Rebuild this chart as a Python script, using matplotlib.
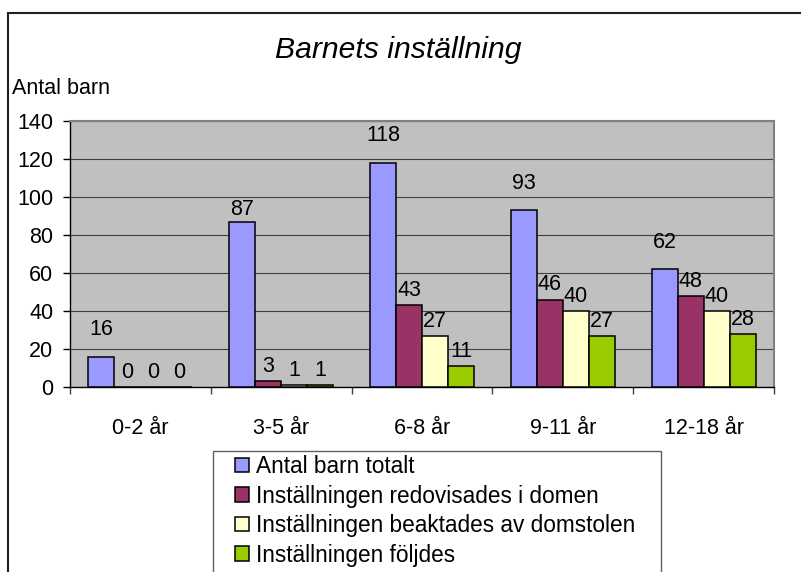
import numpy as np
import matplotlib
matplotlib.use('Agg')
import matplotlib.pyplot as plt
from matplotlib.patches import Rectangle, Patch

plt.rcParams['font.family'] = ['Liberation Sans', 'DejaVu Sans']

categories = ['0-2 år', '3-5 år', '6-8 år', '9-11 år', '12-18 år']
totalt = [16, 87, 118, 93, 62]
redovisades = [0, 3, 43, 46, 48]
beaktades = [0, 1, 27, 40, 40]
foljdes = [0, 1, 11, 27, 28]
series_names = ['Antal barn totalt',
                'Inställningen redovisades i domen',
                'Inställningen beaktades av domstolen',
                'Inställningen följdes']
colors = ['#9999FF', '#993366', '#FFFFCC', '#99CC00']

FS = 15.5
W, H = 801, 572
fig = plt.figure(figsize=(W / 100, H / 100), dpi=100)
ax = fig.add_axes([70 / W, 1 - 387 / H, (774 - 70) / W, (387 - 121) / H])
ax.set_facecolor('#C0C0C0')

x = np.arange(len(categories))
width = 0.185
series = [totalt, redovisades, beaktades, foljdes]
label_offset = [12, 3, 3, 3]  # points above bar top, Excel-ish placement

for i, (vals, col) in enumerate(zip(series, colors)):
    pos = x + (i - 1.5) * width
    ax.bar(pos, vals, width, color=col, edgecolor='black', linewidth=1.1, zorder=3)
    for p, v in zip(pos, vals):
        off = label_offset[i]
        if i == 0 and v == 87:
            off = 1
        ax.annotate(str(v), (p, v), xytext=(0, off), textcoords='offset points',
                    ha='center', va='bottom', fontsize=FS, zorder=4)

ax.set_xlim(-0.5, len(categories) - 0.5)
ax.set_ylim(0, 140)
ax.set_yticks(range(0, 141, 20))
ax.yaxis.grid(True, color='#404040', linewidth=0.8, zorder=1)
ax.set_axisbelow(True)

ax.set_xticks(x)
ax.set_xticklabels(categories)
ax.set_xticks(np.arange(-0.5, len(categories), 1), minor=True)
ax.tick_params(axis='x', which='major', length=0, pad=22, labelsize=FS)
ax.tick_params(axis='x', which='minor', length=5, width=1, direction='out', color='#404040')
ax.tick_params(axis='y', length=5, width=1, direction='out', pad=7, labelsize=FS)

for s in ['top', 'right']:
    ax.spines[s].set_color('#808080')
    ax.spines[s].set_linewidth(1.5)
for s in ['left', 'bottom']:
    ax.spines[s].set_color('black')
    ax.spines[s].set_linewidth(1.0)

fig.text(0.497, 1 - 50 / H, 'Barnets inställning', ha='center', va='center',
         fontsize=21.7, style='italic')
fig.text(12 / W, 1 - 88 / H, 'Antal barn', ha='left', va='center', fontsize=FS)

# outer chart border (runs off the right and bottom edges)
fig.patches.append(Rectangle((8 / W, -0.5), 2, 1 - 13 / H + 0.5, transform=fig.transFigure,
                             fill=False, edgecolor='#202020', linewidth=1.5))
# legend box (cut off at the bottom)
fig.patches.append(Rectangle((213 / W, -0.5), (661 - 213) / W, 1 - 451 / H + 0.5,
                             transform=fig.transFigure, fill=False,
                             edgecolor='#606060', linewidth=1.0))

handles = [Patch(facecolor=c, edgecolor='black', linewidth=1.1) for c in colors]
fig.legend(handles, series_names, loc='upper left', bbox_to_anchor=(235 / W, 1 - 455 / H),
           frameon=False, fontsize=16.3, handlelength=0.62, handleheight=0.62,
           handletextpad=0.3, labelspacing=0.29, borderpad=0, borderaxespad=0)

fig.savefig('out.png', dpi=100)
